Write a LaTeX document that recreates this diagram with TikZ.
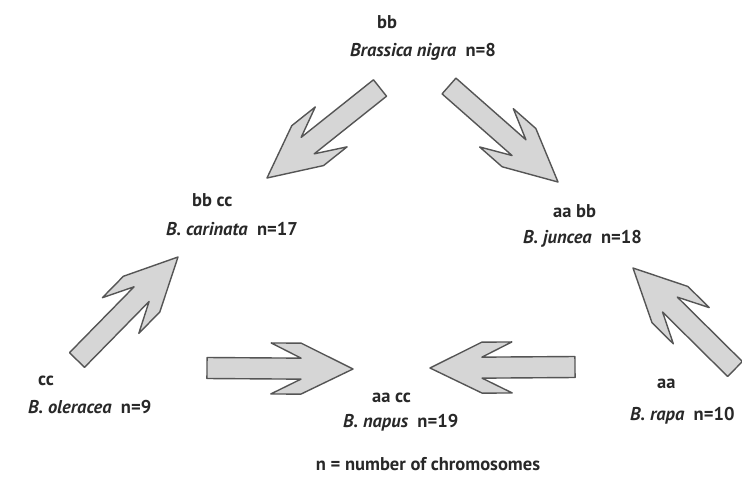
\documentclass[tikz,border=0pt]{standalone}
\usepackage{fontspec}
\setmainfont{PT Sans}
\usetikzlibrary{calc}
\definecolor{arrowfill}{RGB}{214,214,214}
\definecolor{arrowline}{RGB}{85,85,85}
\definecolor{txt}{RGB}{40,40,40}
\tikzset{
  arrowshape/.style={fill=arrowfill, draw=arrowline, line width=1.4pt, line join=round},
  lbl/.style={inner sep=0pt, anchor=base west, font=\fontsize{18.5}{21}\selectfont\bfseries, text=txt},
}
\newcommand\bigarrow[2]{%
  \draw[arrowshape]
   ($(#1)!10.5pt!90:(#2)$) --
   ($(#2)!52pt!(#1)!10.5pt!-90:(#1)$) --
   ($(#2)!82pt!(#1)!25.5pt!-90:(#1)$) --
   ($(#2)!52pt!(#1)!25.5pt!-90:(#1)$) --
   (#2) --
   ($(#2)!52pt!(#1)!25.5pt!90:(#1)$) --
   ($(#2)!82pt!(#1)!25.5pt!90:(#1)$) --
   ($(#2)!52pt!(#1)!10.5pt!90:(#1)$) --
   ($(#1)!10.5pt!-90:(#2)$) -- cycle;
}
\begin{document}
\begin{tikzpicture}[x=1pt,y=-1pt]
\useasboundingbox[fill=white] (0,0) rectangle (742,488);
% arrow ends
\coordinate (t1) at (380,88);  \coordinate (h1) at (267,178);
\coordinate (t2) at (449,86);  \coordinate (h2) at (558,182);
\coordinate (t3) at (77,360);  \coordinate (h3) at (178,257);
\coordinate (t4) at (207,368); \coordinate (h4) at (353,369);
\coordinate (t5) at (575,367); \coordinate (h5) at (430,368);
\coordinate (t6) at (735,369); \coordinate (h6) at (633,268);
\bigarrow{t1}{h1}
\bigarrow{t2}{h2}
\bigarrow{t3}{h3}
\bigarrow{t4}{h4}
\bigarrow{t5}{h5}
\bigarrow{t6}{h6}
% labels
\node[lbl] (bgen) at (377,28) {bb};
\node[lbl] (bsp) at (350,56) {\itshape Brassica nigra\upshape\ \ n=8};
\node[lbl] (bcgen) at (192,206) {bb cc};
\node[lbl] (bcsp) at (166,235) {\itshape B. carinata\upshape\ \ n=17};
\node[lbl] (abgen) at (553,217) {aa bb};
\node[lbl] (absp) at (523,243) {\itshape B. juncea\upshape\ \ n=18};
\node[lbl] (cgen) at (38,385) {cc};
\node[lbl] (csp) at (28,413) {\itshape B. oleracea\upshape\ \ n=9};
\node[lbl] (acgen) at (372,402) {aa cc};
\node[lbl] (acsp) at (343,427) {\itshape B. napus\upshape\ \ n=19};
\node[lbl] (agen) at (657,388) {aa};
\node[lbl] (asp) at (630,420) {\itshape B. rapa\upshape\ \ n=10};
\node[lbl, anchor=base] (note) at (428,470) {n = number of chromosomes};
\end{tikzpicture}
\end{document}
